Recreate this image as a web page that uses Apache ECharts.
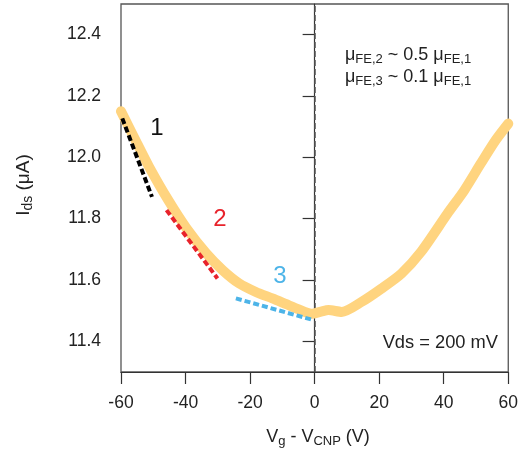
<!DOCTYPE html>
<html>
<head>
<meta charset="utf-8">
<script src="https://cdn.jsdelivr.net/npm/echarts@6/dist/echarts.min.js"></script>
<style>html,body{margin:0;padding:0;background:#fff}#c{width:521px;height:454px}</style>
</head>
<body>
<div id="c"></div>
<script>
// Measured curve: Vg - VCNP (V) vs Ids (uA)
var vg  = [-60, -55, -51.3, -45.4, -39.8, -33.6, -28.5, -23.4, -18.2, -13.1, -9, -4.9, -1, 2, 4.3, 8.4, 14.6, 20.7, 26.9, 33, 41.2, 46.4, 51.5, 56.1, 60];
var ids = [12.15, 12.045, 11.969, 11.861, 11.77, 11.687, 11.632, 11.589, 11.561, 11.540, 11.522, 11.504, 11.49, 11.497, 11.502, 11.496, 11.529, 11.572, 11.621, 11.692, 11.817, 11.893, 11.98, 12.056, 12.11];
// Linear fit segments
var fit1X = [-59.6, -50.4], fit1Y = [12.127, 11.871];
var fit2X = [-45.9, -30.1], fit2Y = [11.828, 11.605];
var fit3X = [-24.4, -0.3],  fit3Y = [11.540, 11.469];
// CNP marker position
var cnpX = 0;
var xTicks = [-60, -40, -20, 0, 20, 40, 60];
var yTicks = [11.4, 11.6, 11.8, 12.0, 12.2, 12.4];

function zip(a, b) { return a.map(function (v, i) { return [v, b[i]]; }); }

var FONT = 'Liberation Sans, Arial, sans-serif';
var chart = echarts.init(document.getElementById('c'), null, {renderer: 'canvas'});
chart.setOption({
  animation: false,
  backgroundColor: '#fff',
  grid: {left: 121, right: 9, top: 4, bottom: 82, show: true, borderColor: '#555', borderWidth: 1.3},
  xAxis: {
    type: 'value', min: -60, max: 60, interval: 20,
    axisLine: {lineStyle: {color: '#333', width: 1.2}},
    axisTick: {show: true, length: 12, lineStyle: {color: '#333', width: 1.2}},
    axisLabel: {margin: 22, color: '#222', fontSize: 17.5, fontFamily: FONT},
    splitLine: {show: false}
  },
  yAxis: {
    type: 'value', min: 11.3, max: 12.5,
    axisLine: {show: true, lineStyle: {color: '#333', width: 1.2}},
    axisTick: {show: true, length: 12, lineStyle: {color: '#333', width: 1.2}, customValues: yTicks},
    axisLabel: {margin: 20, color: '#222', fontSize: 17.5, fontFamily: FONT, customValues: yTicks,
      formatter: function (v) { return v.toFixed(1); }},
    splitLine: {show: false}
  },
  series: [
    {type: 'line', data: zip(vg, ids), symbol: 'none', smooth: 0.25, z: 2,
     lineStyle: {color: '#FFD47F', width: 10, cap: 'round', join: 'round'},
     markLine: {silent: true, symbol: ['none', 'none'], label: {show: false}, z: 1,
       lineStyle: {color: '#555', width: 1.5, type: 'dashed', dashOffset: 0},
       data: [{xAxis: cnpX}]}},
    {type: 'line', data: zip(fit1X, fit1Y), symbol: 'none', z: 3,
     lineStyle: {color: '#000', width: 4, type: [6, 3]}},
    {type: 'line', data: zip(fit2X, fit2Y), symbol: 'none', z: 3,
     lineStyle: {color: '#E8232B', width: 4, type: [6, 3]}},
    {type: 'line', data: zip(fit3X, fit3Y), symbol: 'none', z: 3,
     lineStyle: {color: '#4DB4E8', width: 4, type: [6, 3]}}
  ],
  graphic: [
    {type: 'text', x: 157, y: 128, style: {text: '1', fill: '#111', font: '24px ' + FONT, textAlign: 'center', textVerticalAlign: 'middle'}},
    {type: 'text', x: 220, y: 219, style: {text: '2', fill: '#E8232B', font: '24px ' + FONT, textAlign: 'center', textVerticalAlign: 'middle'}},
    {type: 'text', x: 280, y: 276, style: {text: '3', fill: '#4DB4E8', font: '24px ' + FONT, textAlign: 'center', textVerticalAlign: 'middle'}},
    {type: 'text', x: 345, y: 55, style: {
      text: 'μ{s|FE,2} ~ 0.5 μ{s|FE,1}', fill: '#222', font: '18px ' + FONT, textVerticalAlign: 'middle',
      rich: {s: {fontSize: 13, fontFamily: FONT, fill: '#222', padding: [9, 0, 0, 0]}}}},
    {type: 'text', x: 345, y: 77, style: {
      text: 'μ{s|FE,3} ~ 0.1 μ{s|FE,1}', fill: '#222', font: '18px ' + FONT, textVerticalAlign: 'middle',
      rich: {s: {fontSize: 13, fontFamily: FONT, fill: '#222', padding: [9, 0, 0, 0]}}}},
    {type: 'text', x: 498, y: 343, style: {text: 'Vds = 200 mV', fill: '#222', font: '18.3px ' + FONT, textAlign: 'right', textVerticalAlign: 'middle'}},
    {type: 'text', x: 318, y: 437, style: {
      text: 'V{s|g} - V{s|CNP} (V)', fill: '#222', font: '18px ' + FONT, textAlign: 'center', textVerticalAlign: 'middle',
      rich: {s: {fontSize: 13, fontFamily: FONT, fill: '#222', padding: [9, 0, 0, 0]}}}},
    {type: 'text', x: 24, y: 185, rotation: Math.PI / 2, style: {
      text: 'I{s|ds} (μA)', fill: '#222', font: '19px ' + FONT, textAlign: 'center', textVerticalAlign: 'middle',
      rich: {s: {fontSize: 14, fontFamily: FONT, fill: '#222', padding: [9, 0, 0, 0]}}}}
  ]
});
</script>
</body>
</html>
